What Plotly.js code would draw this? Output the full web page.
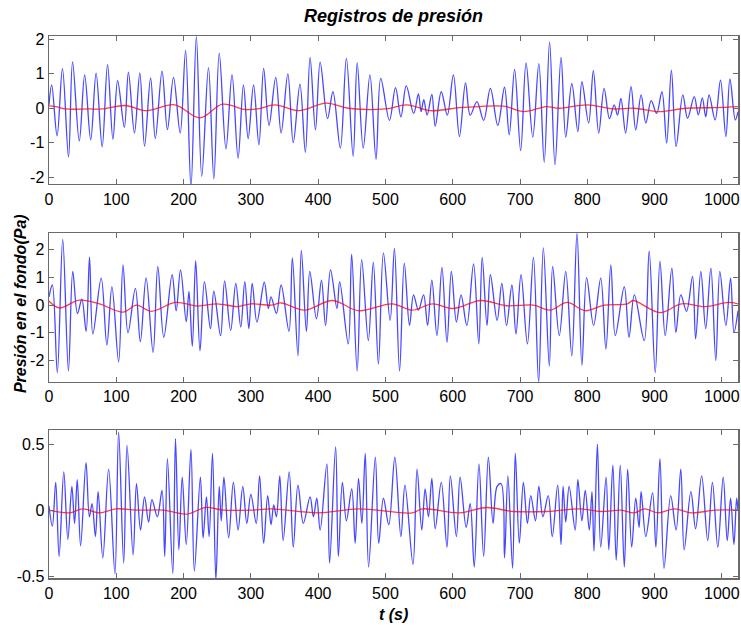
<!DOCTYPE html>
<html>
<head>
<meta charset="utf-8">
<script src="https://cdn.plot.ly/plotly-3.0.1.min.js"></script>
<style>
  html, body { margin: 0; padding: 0; background: #ffffff; }
  #chart { width: 741px; height: 625px; }
</style>
</head>
<body>
<div id="chart"></div>
<script>
// Pressure record 1: turning points of the measured signal (t in s, p in Pa)
const t1 = [0,4,12,20,29,35,45,53,62,70,79,87,95,102,112,118,127,135,142,151,158,168,176,185,195,203,211,219,227,237,245,253,263,272,281,289,296,304,312,319,327,337,345,355,363,373,381,388,396,403,414,422,433,442,452,458,467,477,486,493,506,515,523,531,542,549,553,557,562,569,574,583,592,601,610,619,626,636,646,656,667,677,684,692,701,709,719,728,736,744,752,761,768,777,786,792,802,809,817,825,833,840,845,850,857,865,872,880,887,895,903,911,918,925,932,942,949,959,965,971,976,981,990,998,1006,1012,1020,1024];
const p1 = [0.1,0.68,-0.8,1.15,-1.42,1.35,-0.95,0.97,-0.92,1.02,-1.12,1.27,-0.9,0.8,-0.55,1.05,-0.72,1.03,-1.1,0.88,-0.88,1.08,-0.62,0.9,-0.72,1.68,-2.3,2.08,-1.98,1.18,-2.05,1.6,-1.18,0.98,-1.45,0.68,-0.88,0.68,-1.06,1.16,-0.5,0.9,-0.72,1.0,-1.0,0.7,-1.28,1.48,-0.63,1.34,-0.3,0.48,-1.16,1.45,-1.4,1.32,-1.16,0.97,-1.48,0.87,-0.35,0.6,-0.25,0.65,-0.15,0.42,-0.1,0.25,-0.2,0.4,-0.52,0.48,-0.2,0.97,-0.82,0.74,-0.2,0.19,-0.35,0.58,-0.5,0.61,-0.77,1.13,-1.23,1.32,-0.84,1.3,-1.57,1.93,-1.64,1.48,-0.84,0.72,-0.68,0.77,-0.43,1.09,-0.72,0.58,-0.3,0.1,-0.2,0.29,-0.72,0.63,-0.63,0.39,-0.43,0.22,-0.15,0.48,-1.01,1.11,-1.11,0.39,-0.29,0.34,-0.19,0.3,-0.25,0.39,-0.34,0.82,-0.82,0.85,-0.34,-0.1];
// Record 1: low-frequency component
const m1t = [0,10,25,60,80,113,145,187,224,258,290,310,336,371,412,445,500,532,567,610,640,676,706,739,758,800,838,870,907,947,990,1024];
const m1 = [0.07,0.05,-0.02,-0.02,-0.02,0.08,-0.07,0.1,-0.28,0.12,-0.03,-0.02,0.1,-0.07,0.15,0.0,-0.02,0.1,-0.07,0.02,0.05,0.06,-0.1,0.05,0.0,0.1,-0.02,0.0,-0.1,0.0,0.02,0.05];

// Pressure record 2
const t2 = [0,5,12.4,20.4,28.9,35.3,42.3,48.8,55.2,60.2,65.2,77.6,86,93.5,103.5,110,117.4,128.4,135.8,144.3,154.7,161.7,170.6,183,189,195.5,204,208,213,218,224.4,231,240,245,255,261,270,277.6,285,291,297,302,309,320,326,330,338,345,356.7,361.7,370,375,382.6,387.6,397.5,405,411,418.4,428,432,444.8,449.8,458,464.7,474.6,482,489.6,497,507,513.4,521,528,535.8,541.8,549,556.7,562.7,569,576.6,584,591.5,598,605.5,612.4,621,631,638.8,643.8,651,656,666,673,680,688,694,701.5,711,720,727.7,734.7,743.6,748.5,758.4,768,777,784.7,792,799,809.4,820,827.7,835,841.6,855,862,870,884.7,892,901,908,915.8,925.7,931.7,939,947.5,956.4,961,968.8,976,983.7,991,997,1006,1013,1018,1024];
const p2 = [0.3,0.73,-2.44,2.38,-2.38,1.22,-0.3,0.22,-0.95,1.74,-1.04,0.98,-1.44,0.67,-2.05,1.46,-1.0,0.61,-1.32,0.99,-1.71,1.4,-1.16,1.1,-0.2,1.28,-0.6,0.5,-1.49,1.61,-1.65,0.85,-0.85,0.51,-1.1,0.88,-0.91,0.79,-0.79,0.85,-0.85,0.79,-0.61,0.83,-0.12,0.3,-0.3,0.73,-0.95,1.71,-1.83,1.98,-0.95,1.22,-0.49,0.91,-0.73,1.28,-0.12,0.85,-1.4,1.85,-2.38,1.65,-1.28,1.56,-2.13,1.89,-0.55,2.05,-2.38,1.52,-0.73,0.37,-0.18,0.37,-0.73,0.91,-1.1,1.37,-1.34,1.22,-0.61,0.37,-0.73,1.49,-1.4,1.73,-0.73,1.1,-0.55,0.79,-0.73,0.73,-1.04,1.1,-1.4,1.73,-2.8,2.07,-2.2,1.4,-1.1,1.22,-1.83,2.62,-2.17,1.0,-0.73,0.98,-1.59,1.46,-1.1,0.67,-1.16,0.37,-1.28,1.95,-2.44,1.59,-1.1,1.34,-0.98,0.37,-0.22,1.04,-1.22,1.22,-0.85,1.34,-2.0,1.22,-0.73,0.98,-0.98,-0.2];
const m2t = [0,15,45,75,110,130,152,188,220,250,280,300,330,345,380,421,460,510,540,570,600,642,680,720,745,770,797,825,860,868,908,940,975,1010,1024];
const m2 = [0.15,-0.1,0.18,0.05,-0.25,0.0,-0.22,0.1,-0.03,0.05,-0.05,0.05,0.0,0.08,-0.18,0.17,-0.2,0.05,-0.18,0.05,-0.12,0.17,-0.02,0.0,-0.18,0.1,-0.2,0.0,0.05,0.17,-0.27,0.05,-0.05,0.1,0.05];

// Pressure record 3
const t3 = [0,5,10,15,22,28,34,38,42,47,55,60,64,69,73,80,88.6,98,103.5,111,116,125,130,136,142,148,153,161,168,172,176,184,188,193,198,204,211,216,225,229,234,238,243,248,253,256,260,267,274,281,288,294,300,308,313,319,325,330,334,338,343,348,357,363,370,378,388,393,398,403,413,417,426,430,436,442,450,455,460,465,470,475,485,490,497,505,514,523,529,541,547,554,559,564,569,574,583,591.5,596.5,605.5,611,620,626,632,639,646,653,660,666,672,677,682,689,693,699,705,711,716,723,728,734,742,748,756,761,764,768,773,782,786,792,797,803,807,810,815,820,828,832,838,843,849,855,860,866,872,877,880,887,897,902,908,914,924,932,939,944,954,961,970,979,986,994,1002,1008,1013,1018,1022,1024];
const p3 = [0.03,-0.12,0.21,-0.35,0.29,-0.22,0.18,-0.1,0.23,-0.27,0.36,-0.05,0.05,-0.2,0.14,-0.36,0.31,-0.48,0.59,-0.4,0.49,-0.34,0.2,-0.15,0.1,-0.09,0.08,-0.05,0.15,-0.35,0.39,-0.48,0.54,-0.3,0.25,-0.26,0.46,-0.46,0.25,-0.21,0.1,-0.2,0.43,-0.53,0.18,-0.08,0.25,-0.21,0.21,-0.15,0.18,-0.1,0.12,-0.1,0.26,-0.25,0.11,-0.11,0.04,-0.05,0.26,-0.23,0.29,-0.28,0.19,-0.1,0.1,-0.05,0.09,-0.15,0.35,-0.4,0.48,-0.35,0.21,-0.08,0.16,-0.25,0.24,-0.1,0.43,-0.43,0.4,-0.25,0.09,-0.11,0.4,-0.2,0.19,-0.41,0.31,-0.15,0.16,-0.05,0.24,-0.14,0.21,-0.28,0.26,-0.2,0.25,-0.13,0.05,-0.43,0.35,-0.35,0.4,-0.1,0.18,0.2,-0.36,0.26,-0.44,0.43,-0.25,0.21,-0.1,0.11,-0.08,0.18,-0.05,0.11,-0.2,0.19,-0.26,0.18,-0.09,0.18,-0.15,0.23,-0.08,0.15,-0.15,0.14,-0.31,0.5,-0.28,0.25,-0.3,0.34,-0.38,0.34,-0.43,0.31,-0.28,0.09,-0.13,0.14,-0.2,0.13,-0.28,0.39,-0.44,0.11,-0.15,0.31,-0.3,0.14,-0.14,0.26,-0.23,0.21,-0.28,0.25,-0.23,0.09,-0.26,0.09,0.0];
const m3t = [0,30,50,75,100,130,170,205,232,260,300,330,400,460,540,555,610,650,690,740,790,820,850,870,885,905,930,955,990,1024];
const m3 = [0.0,-0.02,0.01,-0.02,0.01,0.0,0.0,-0.03,0.02,0.0,0.0,0.01,-0.02,0.01,-0.02,0.01,-0.02,0.02,-0.01,-0.01,0.01,-0.01,0.0,-0.02,0.01,-0.02,0.01,-0.02,0.0,0.0];

// Axis ranges and tick values for each record
const xRange = [0, 1024];
const xTicks = [0,100,200,300,400,500,600,700,800,900,1000];
const yRanges = [[-2.2, 2.1], [-2.77, 2.6], [-0.513, 0.606]];
const yTicks = [[-2,-1,0,1,2], [-2,-1,0,1,2], [-0.5,0,0.5]];

const titleText = 'Registros de presión';
const yLabel = 'Presión en el fondo(Pa)';
const xLabel = 't (s)';

const FONT = 'Liberation Sans, Arial, Helvetica, sans-serif';
const FRAME = '#6a6a6a';
const BLUE = 'rgba(0,0,255,0.72)';
const RED = 'rgba(255,0,0,0.75)';

function wave(x, y, axis, color) {
  return {
    x: x, y: y, xaxis: 'x' + axis, yaxis: 'y' + axis,
    type: 'scatter', mode: 'lines',
    line: { color: color, width: 1.3, shape: 'spline', smoothing: 1 },
    hoverinfo: 'skip', showlegend: false
  };
}

const traces = [
  wave(t1, p1, '', BLUE), wave(m1t, m1, '', RED),
  wave(t2, p2, '2', BLUE), wave(m2t, m2, '2', RED),
  wave(t3, p3, '3', BLUE), wave(m3t, m3, '3', RED)
];

function xAxis(anchor) {
  return {
    anchor: anchor, range: xRange, tickvals: xTicks, ticktext: xTicks.map(String),
    ticks: 'inside', ticklen: 5, tickwidth: 1, tickcolor: FRAME,
    showline: true, linecolor: FRAME, linewidth: 1.5, mirror: 'ticks',
    showgrid: false, zeroline: false,
    tickfont: { family: FONT, size: 16, color: '#000' }
  };
}
function yAxis(anchor, i, domain) {
  return {
    anchor: anchor, domain: domain, range: yRanges[i], tickvals: yTicks[i],
    ticktext: yTicks[i].map(String),
    ticks: 'inside', ticklen: 5, tickwidth: 1, tickcolor: FRAME,
    showline: true, linecolor: FRAME, linewidth: 1.5, mirror: 'ticks',
    showgrid: false, zeroline: false,
    tickfont: { family: FONT, size: 16, color: '#000' }
  };
}

const layout = {
  width: 741, height: 625,
  margin: { l: 49, r: 3, t: 36, b: 47 },
  paper_bgcolor: '#ffffff', plot_bgcolor: '#ffffff',
  showlegend: false,
  title: {
    text: '<b><i>' + titleText + '</i></b>',
    font: { family: FONT, size: 18, color: '#000' },
    x: 0.5, xref: 'paper', y: 1 - 16 / 625, yref: 'container', yanchor: 'middle'
  },
  xaxis: xAxis('y'),
  xaxis2: xAxis('y2'),
  xaxis3: xAxis('y3'),
  yaxis: yAxis('x', 0, [0.727, 1]),
  yaxis2: yAxis('x2', 1, [0.362, 0.636]),
  yaxis3: yAxis('x3', 2, [0, 0.273]),
  annotations: [
    {
      text: '<b><i>' + yLabel + '</i></b>', textangle: -90,
      xref: 'paper', yref: 'paper', x: -0.042, y: 0.5055,
      xanchor: 'center', yanchor: 'middle', showarrow: false,
      font: { family: FONT, size: 16, color: '#000' }
    },
    {
      text: '<b><i>' + xLabel + '</i></b>',
      xref: 'paper', yref: 'paper', x: 0.5, y: -0.068,
      xanchor: 'center', yanchor: 'middle', showarrow: false,
      font: { family: FONT, size: 16, color: '#000' }
    }
  ]
};

Plotly.newPlot('chart', traces, layout, { staticPlot: true, displayModeBar: false });
</script>
</body>
</html>
